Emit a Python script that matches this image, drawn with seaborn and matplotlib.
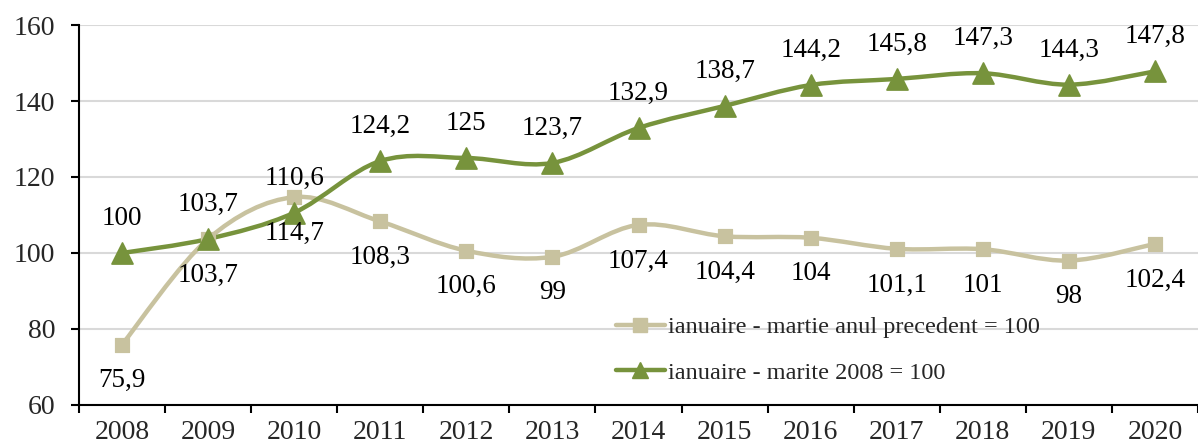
import numpy as np
import pandas as pd
import matplotlib
matplotlib.use("Agg")
import matplotlib.pyplot as plt
from matplotlib.path import Path
from matplotlib.patches import PathPatch
from matplotlib.ticker import FixedLocator
from matplotlib.lines import Line2D
import seaborn as sns

years = ["2008", "2009", "2010", "2011", "2012", "2013", "2014",
         "2015", "2016", "2017", "2018", "2019", "2020"]
prev_year = [75.9, 103.7, 114.7, 108.3, 100.6, 99, 107.4, 104.4, 104, 101.1, 101, 98, 102.4]
base_2008 = [100, 103.7, 110.6, 124.2, 125, 123.7, 132.9, 138.7, 144.2, 145.8, 147.3, 144.3, 147.8]
label_prev = "ianuaire - martie anul precedent = 100"
label_base = "ianuaire - marite 2008 = 100"
y_ticks = [60, 80, 100, 120, 140, 160]

c_prev = "#C8C29F"
c_base = "#77933C"

sns.set_theme(style="white")
plt.rcParams['font.family'] = ['Liberation Serif', 'DejaVu Serif']

fig = plt.figure(figsize=(11.98, 4.48), dpi=100)
ax = fig.add_axes([79 / 1198, 1 - 405 / 448, 1 - 79 / 1198, (405 - 25) / 448])

x = np.arange(len(years))

def smooth_path(xs, ys):
    xs = np.asarray(xs, float)
    ys = np.asarray(ys, float)
    n = len(xs)
    verts = [(xs[0], ys[0])]
    codes = [Path.MOVETO]
    for i in range(n - 1):
        p0 = np.array([xs[max(i - 1, 0)], ys[max(i - 1, 0)]])
        p1 = np.array([xs[i], ys[i]])
        p2 = np.array([xs[i + 1], ys[i + 1]])
        p3 = np.array([xs[min(i + 2, n - 1)], ys[min(i + 2, n - 1)]])
        c1 = p1 + (p2 - p0) / 6
        c2 = p2 - (p3 - p1) / 6
        verts += [tuple(c1), tuple(c2), tuple(p2)]
        codes += [Path.CURVE4] * 3
    return Path(verts, codes)

for vals, col in [(prev_year, c_prev), (base_2008, c_base)]:
    ax.add_patch(PathPatch(smooth_path(x, vals), facecolor="none", edgecolor=col,
                           lw=3.2, capstyle="round", joinstyle="round", zorder=3))

df = pd.DataFrame({"x": np.concatenate([x, x]),
                   "v": prev_year + base_2008,
                   "s": [label_prev] * len(x) + [label_base] * len(x)})
sns.scatterplot(data=df[df.s == label_prev], x="x", y="v", marker="s", s=115,
                color=c_prev, edgecolor=c_prev, ax=ax, zorder=4, legend=False)
sns.scatterplot(data=df[df.s == label_base], x="x", y="v", marker="^", s=230,
                color=c_base, edgecolor=c_base, ax=ax, zorder=4, legend=False)

def fmt(v):
    return f"{v:g}".replace(".", ",")

for xi, v in zip(x, prev_year):
    ax.annotate(fmt(v), (xi, v), xytext=(0, -26), textcoords="offset points",
                ha="center", va="center", fontsize=19.5, color="black", zorder=5)
for xi, v in zip(x, base_2008):
    ax.annotate(fmt(v), (xi, v), xytext=(0, 25), textcoords="offset points",
                ha="center", va="center", fontsize=19.5, color="black", zorder=5)

ax.set_xlim(-0.5, len(years) - 0.5)
ax.set_ylim(60, 160)
ax.set_yticks(y_ticks)
ax.set_yticklabels([str(t) for t in y_ticks], fontsize=20)
ax.set_xticks(x)
ax.set_xticklabels(years, fontsize=20)
ax.xaxis.set_minor_locator(FixedLocator(np.arange(-0.5, len(years), 1.0)))
ax.tick_params(axis="x", which="major", length=0, pad=11)
ax.tick_params(axis="x", which="minor", length=5.5, width=1.5, color="black", direction="out", bottom=True)
ax.tick_params(axis="y", which="major", length=6, width=1.5, color="black", direction="out", left=True, pad=11)
ax.set_xlabel("")
ax.set_ylabel("")
ax.grid(axis="y", color="#D9D9D9", lw=1.5, zorder=0)
ax.set_axisbelow(True)
for side in ["top", "right"]:
    ax.spines[side].set_visible(False)
for side in ["left", "bottom"]:
    ax.spines[side].set_color("black")
    ax.spines[side].set_linewidth(1.5)

handles = [Line2D([0], [0], color=c_prev, lw=3.2, marker="s", markersize=10),
           Line2D([0], [0], color=c_base, lw=3.2, marker="^", markersize=12)]
fig.legend(handles, [label_prev, label_base], loc="center left",
           bbox_to_anchor=(616 / 1198, 1 - 350 / 448), frameon=False,
           fontsize=17.5, handlelength=2.0, handletextpad=0.12, labelspacing=0.95,
           borderaxespad=0, borderpad=0)

fig.savefig("out.png", dpi=100)
